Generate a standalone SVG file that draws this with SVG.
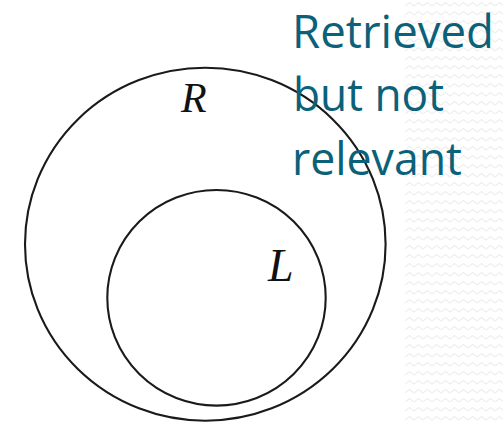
<svg xmlns="http://www.w3.org/2000/svg" width="503" height="423" viewBox="0 0 503 423">
<style>
.ring{fill:none;stroke:#1a1a1a;stroke-width:2.1}
.math{font-family:"Liberation Serif","DejaVu Serif",serif;font-style:italic;fill:#111}
.note{font-family:"Open Sans",Lato,sans-serif;font-size:45px;fill:#0b6179}
</style>
<defs>
<pattern id="zig" width="9" height="9" patternUnits="userSpaceOnUse">
<path d="M0 6 L4.5 2.5 L9 6" fill="none" stroke="#efefef" stroke-width="1.3"/>
</pattern>
</defs>
<rect width="503" height="423" fill="#fff"/>
<rect x="405" y="0" width="98" height="423" fill="url(#zig)"/>
<g id="R">
<ellipse class="ring" cx="205.3" cy="244.2" rx="180.3" ry="176.5"/>
<text class="math" x="181" y="112" font-size="42">R</text>
</g>
<g id="L">
<ellipse class="ring" cx="216.5" cy="297.8" rx="109.2" ry="107.8"/>
<text class="math" x="268" y="281" font-size="46">L</text>
</g>
<g id="label">
<text class="note" x="292" y="48" textLength="202" lengthAdjust="spacingAndGlyphs">Retrieved</text>
<text class="note" x="293" y="111" textLength="151" lengthAdjust="spacingAndGlyphs">but not</text>
<text class="note" x="292" y="175" textLength="170" lengthAdjust="spacingAndGlyphs">relevant</text>
</g>
</svg>
